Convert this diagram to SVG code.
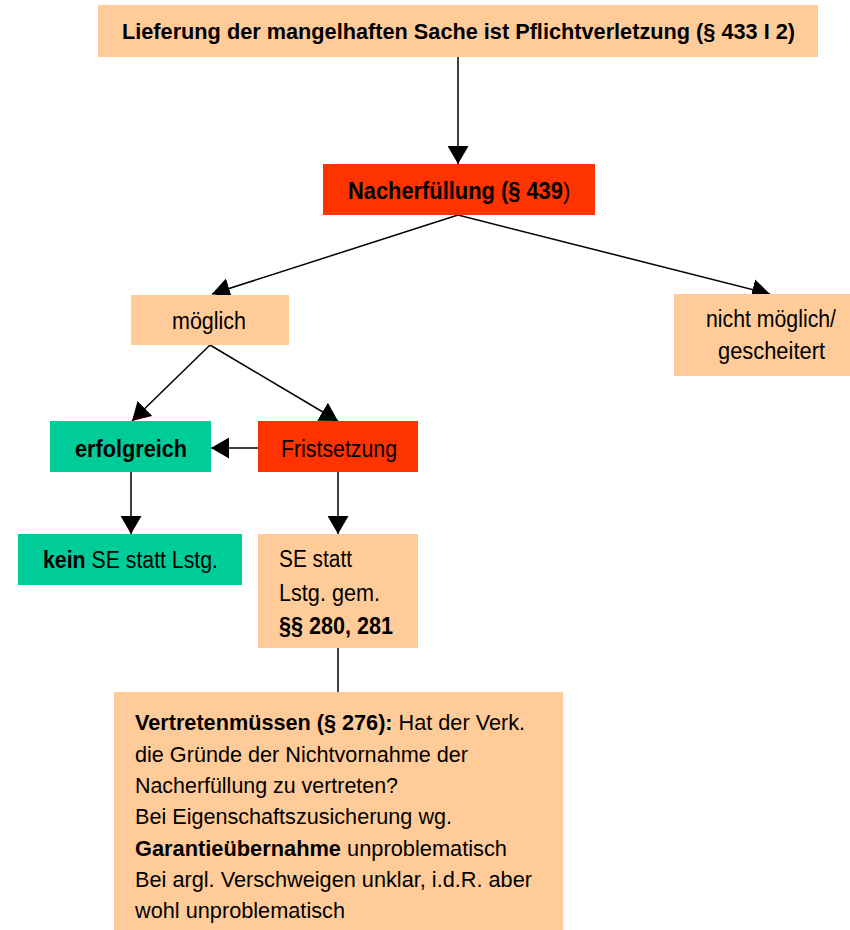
<svg xmlns="http://www.w3.org/2000/svg" width="850" height="930" viewBox="0 0 850 930">
<style>
text{font-family:"Liberation Sans",Arial,sans-serif;font-size:23.5px;fill:#000}
.s{font-size:22.5px}
.b{font-weight:bold}
.peach{fill:#FFCC99}
.red{fill:#FF3300}
.green{fill:#00CC99}
.c line{stroke:#000;stroke-width:1.5}
</style>
<defs>
<marker id="ah" viewBox="0 0 18 21" refX="18" refY="10.5" markerWidth="18" markerHeight="21" markerUnits="userSpaceOnUse" orient="auto">
<path d="M0,0 L18,10.5 L0,21 Z" fill="#000"/>
</marker>
</defs>
<rect width="850" height="930" fill="#fff"/>
<g class="c">
<line x1="458" y1="57" x2="458" y2="164" marker-end="url(#ah)"/>
<line x1="458" y1="215" x2="212" y2="294" marker-end="url(#ah)"/>
<line x1="458" y1="215" x2="770" y2="294" marker-end="url(#ah)"/>
<line x1="210" y1="345" x2="132" y2="421" marker-end="url(#ah)"/>
<line x1="210" y1="345" x2="338" y2="421" marker-end="url(#ah)"/>
<line x1="258" y1="448" x2="211" y2="448" marker-end="url(#ah)"/>
<line x1="131" y1="472" x2="131" y2="534" marker-end="url(#ah)"/>
<line x1="338" y1="472" x2="338" y2="534" marker-end="url(#ah)"/>
<line x1="338" y1="648" x2="338" y2="692"/>
</g>
<g id="n1">
<rect class="peach" x="98" y="5" width="720" height="52"/>
<text class="b s" x="122" y="39" textLength="673" lengthAdjust="spacingAndGlyphs">Lieferung der mangelhaften Sache ist Pflichtverletzung (§ 433 I 2)</text>
</g>
<g id="n2">
<rect class="red" x="323" y="164" width="272" height="51"/>
<text transform="translate(348 199) scale(0.93 1)"><tspan class="b">Nacherfüllung (§ 439</tspan>)</text>
</g>
<g id="n3">
<rect class="peach" x="131" y="295" width="158" height="50"/>
<text x="172" y="329" textLength="74" lengthAdjust="spacingAndGlyphs">möglich</text>
</g>
<g id="n4">
<rect class="peach" x="674" y="294" width="176" height="82"/>
<text x="706" y="327" textLength="130" lengthAdjust="spacingAndGlyphs">nicht möglich/</text>
<text x="718" y="359" textLength="107" lengthAdjust="spacingAndGlyphs">gescheitert</text>
</g>
<g id="n5">
<rect class="green" x="50" y="421" width="161" height="51"/>
<text class="b" x="75" y="457" textLength="112" lengthAdjust="spacingAndGlyphs">erfolgreich</text>
</g>
<g id="n6">
<rect class="red" x="258" y="421" width="160" height="51"/>
<text x="281" y="457" textLength="116" lengthAdjust="spacingAndGlyphs">Fristsetzung</text>
</g>
<g id="n7">
<rect class="green" x="18" y="534" width="224" height="51"/>
<text x="43" y="568" textLength="175" lengthAdjust="spacingAndGlyphs"><tspan class="b">kein</tspan> SE statt Lstg.</text>
</g>
<g id="n8">
<rect class="peach" x="258" y="534" width="160" height="114"/>
<text x="279" y="567" textLength="73" lengthAdjust="spacingAndGlyphs">SE statt</text>
<text x="279" y="601" textLength="101" lengthAdjust="spacingAndGlyphs">Lstg. gem.</text>
<text class="b" x="279" y="634" textLength="114" lengthAdjust="spacingAndGlyphs">§§ 280, 281</text>
</g>
<g id="n9">
<rect class="peach" x="114" y="692" width="449" height="238"/>
<text class="s" x="135" y="730" textLength="390" lengthAdjust="spacingAndGlyphs"><tspan class="b">Vertretenmüssen (§ 276):</tspan> Hat der Verk.</text>
<text class="s" x="135" y="762" textLength="333" lengthAdjust="spacingAndGlyphs">die Gründe der Nichtvornahme der</text>
<text class="s" x="135" y="793" textLength="263" lengthAdjust="spacingAndGlyphs">Nacherfüllung zu vertreten?</text>
<text class="s" x="135" y="824" textLength="317" lengthAdjust="spacingAndGlyphs">Bei Eigenschaftszusicherung wg.</text>
<text class="s" x="135" y="856" textLength="372" lengthAdjust="spacingAndGlyphs"><tspan class="b">Garantieübernahme</tspan> unproblematisch</text>
<text class="s" x="135" y="887" textLength="397" lengthAdjust="spacingAndGlyphs">Bei argl. Verschweigen unklar, i.d.R. aber</text>
<text class="s" x="135" y="918" textLength="210" lengthAdjust="spacingAndGlyphs">wohl unproblematisch</text>
</g>
</svg>
